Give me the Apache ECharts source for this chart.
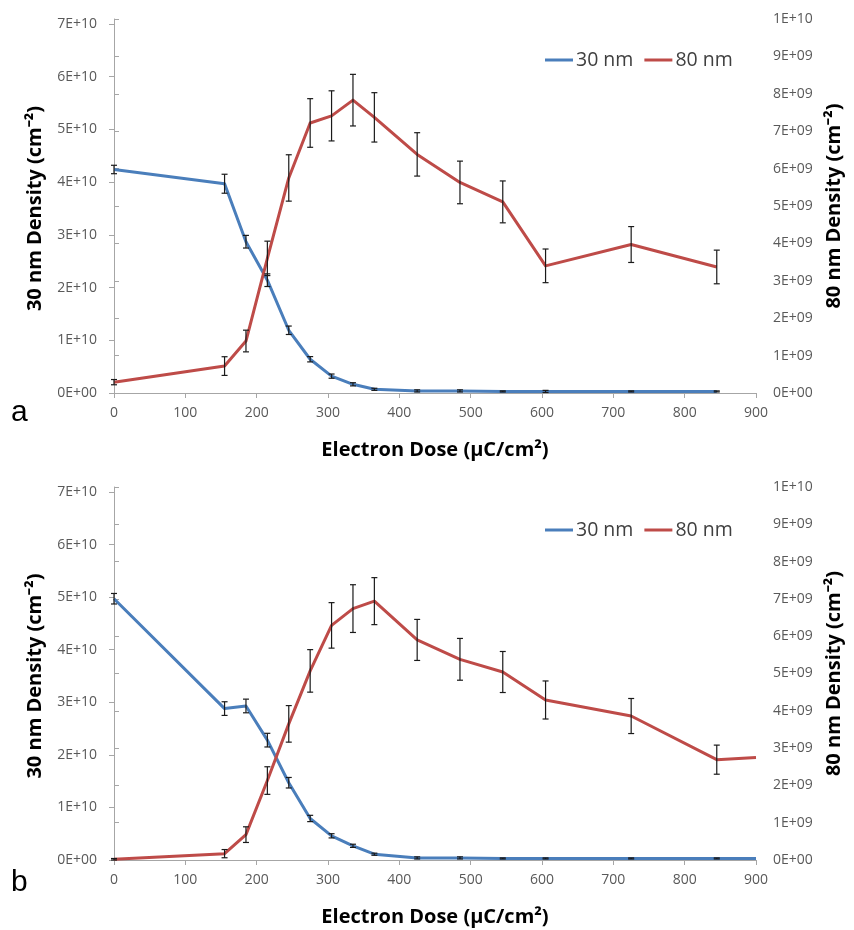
<!DOCTYPE html>
<html>
<head>
<meta charset="utf-8">
<script src="https://cdn.jsdelivr.net/npm/echarts@6/dist/echarts.min.js"></script>
<style>
  html, body { margin: 0; padding: 0; background: #fff; }
  #chart { width: 854px; height: 930px; }
</style>
</head>
<body>
<div id="chart"></div>
<script>
// electron dose (µC/cm²)
const doses = [0, 155, 185, 215, 245, 275, 305, 335, 365, 425, 485, 545, 605, 725, 845];
const dosesB = [0, 155, 185, 215, 245, 275, 305, 335, 365, 425, 485, 545, 605, 725, 845, 900];

// panel a
const aBlue = [4.24e10, 3.97e10, 2.87e10, 2.14e10, 1.19e10, 0.64e10, 0.32e10, 0.165e10, 0.07e10, 0.04e10, 0.04e10, 0.03e10, 0.03e10, 0.03e10, 0.03e10];
const aBlueErr = [0.08e10, 0.18e10, 0.12e10, 0.12e10, 0.08e10, 0.05e10, 0.04e10, 0.03e10, 0.02e10, 0.02e10, 0.02e10, 0.01e10, 0.02e10, 0.01e10, 0.01e10];
const aRed = [0.29e9, 0.72e9, 1.39e9, 3.6e9, 5.75e9, 7.22e9, 7.41e9, 7.83e9, 7.37e9, 6.38e9, 5.63e9, 5.11e9, 3.40e9, 3.97e9, 3.37e9];
const aRedErr = [0.07e9, 0.25e9, 0.29e9, 0.46e9, 0.62e9, 0.65e9, 0.67e9, 0.69e9, 0.66e9, 0.58e9, 0.57e9, 0.56e9, 0.45e9, 0.48e9, 0.45e9];

// panel b
const bBlue = [4.97e10, 2.88e10, 2.93e10, 2.28e10, 1.47e10, 0.79e10, 0.46e10, 0.27e10, 0.11e10, 0.04e10, 0.04e10, 0.03e10, 0.03e10, 0.03e10, 0.03e10, 0.03e10];
const bBlueErr = [0.1e10, 0.13e10, 0.13e10, 0.13e10, 0.1e10, 0.06e10, 0.04e10, 0.03e10, 0.02e10, 0.02e10, 0.02e10, 0.01e10, 0.01e10, 0.01e10, 0.01e10, null];
const bRed = [0.02e9, 0.17e9, 0.68e9, 2.13e9, 3.65e9, 5.07e9, 6.29e9, 6.74e9, 6.94e9, 5.9e9, 5.38e9, 5.04e9, 4.29e9, 3.86e9, 2.69e9, 2.75e9];
const bRedErr = [0.02e9, 0.11e9, 0.21e9, 0.37e9, 0.49e9, 0.57e9, 0.61e9, 0.64e9, 0.63e9, 0.55e9, 0.56e9, 0.55e9, 0.51e9, 0.47e9, 0.39e9, null];

const seriesNames = ['30 nm', '80 nm'];

const BLUE = '#4A7EBB';
const RED = '#BE4B48';
const AXIS = '#a6a6a6';
const LABEL = '#595959';
const FONT = '"Open Sans", "Liberation Sans", sans-serif';

// 7E+10, 0E+00 ...
function sci(v) {
  if (v === 0) return '0E+00';
  const exp = Math.floor(Math.log10(v) + 1e-9);
  const mant = Math.round(v / Math.pow(10, exp));
  return mant + 'E+' + String(exp).padStart(2, '0');
}

const chart = echarts.init(document.getElementById('chart'), null, { renderer: 'canvas' });

function pairs(xs, ys) {
  return xs.map((x, i) => [x, ys[i]]);
}

function errData(xs, ys, errs) {
  return xs.map((x, i) => (errs[i] == null ? null : [x, ys[i] - errs[i], ys[i] + errs[i]]))
    .filter((d) => d !== null);
}

function renderErr(params, api) {
  const lo = api.coord([api.value(0), api.value(1)]);
  const hi = api.coord([api.value(0), api.value(2)]);
  const w = 3;
  const style = { stroke: '#1a1a1a', lineWidth: 1.2 };
  return {
    type: 'group',
    children: [
      { type: 'line', shape: { x1: lo[0], y1: lo[1], x2: hi[0], y2: hi[1] }, style },
      { type: 'line', shape: { x1: lo[0] - w, y1: lo[1], x2: lo[0] + w, y2: lo[1] }, style },
      { type: 'line', shape: { x1: hi[0] - w, y1: hi[1], x2: hi[0] + w, y2: hi[1] }, style },
    ],
  };
}

function xAxis(gridIndex, visible) {
  return {
    type: 'value',
    gridIndex,
    min: 0,
    max: 900,
    interval: 100,
    show: visible,
    name: visible ? 'Electron Dose (µC/cm²)' : '',
    nameLocation: 'middle',
    nameGap: 47,
    nameTextStyle: { fontFamily: FONT, fontSize: 20, fontWeight: 'bold', color: '#000' },
    axisLine: { show: true, lineStyle: { color: AXIS, width: 1 } },
    axisTick: { show: true, length: 5, lineStyle: { color: AXIS } },
    axisLabel: { color: LABEL, fontFamily: FONT, fontSize: 14, margin: 13 },
    splitLine: { show: false },
  };
}

function yAxis(gridIndex, right) {
  return {
    type: 'value',
    gridIndex,
    position: right ? 'right' : 'left',
    min: 0,
    max: right ? 1e10 : 7e10,
    interval: right ? 1e9 : 1e10,
    name: right ? '80 nm Density (cm⁻²)' : '30 nm Density (cm⁻²)',
    nameLocation: 'middle',
    nameGap: right ? 68 : 69,
    nameTextStyle: { fontFamily: FONT, fontSize: 20, fontWeight: 'bold', color: '#000' },
    axisLine: { show: true, lineStyle: { color: AXIS, width: 1 } },
    axisTick: { show: true, length: 5, lineStyle: { color: AXIS } },
    axisLabel: { color: LABEL, fontFamily: FONT, fontSize: 14, margin: 17, formatter: sci },
    splitLine: { show: false },
  };
}

function lineSeries(name, color, xi, yi, data) {
  return {
    name,
    type: 'line',
    xAxisIndex: xi,
    yAxisIndex: yi,
    data,
    showSymbol: false,
    symbol: 'none',
    color,
    lineStyle: { color, width: 3, join: 'round' },
  };
}

function errSeries(xi, yi, data) {
  return {
    type: 'custom',
    xAxisIndex: xi,
    yAxisIndex: yi,
    data,
    renderItem: renderErr,
    z: 5,
    silent: true,
  };
}

function legend(top) {
  return {
    data: seriesNames,
    left: 540,
    top,
    icon: 'rect',
    itemWidth: 28,
    itemHeight: 3,
    itemGap: 11,
    textStyle: { fontFamily: FONT, fontSize: 19.5, color: '#404040', padding: [0, 0, 0, -2] },
  };
}

const option = {
  animation: false,
  backgroundColor: '#fff',
  grid: [
    { left: 114, right: 98, top: 24, height: 369 },
    { left: 114, right: 98, top: 19, height: 374 },
    { left: 114, right: 98, top: 492, height: 368 },
    { left: 114, right: 98, top: 487, height: 373 },
  ],
  legend: [legend(45), legend(515)],
  xAxis: [xAxis(0, true), xAxis(1, false), xAxis(2, true), xAxis(3, false)],
  yAxis: [yAxis(0, false), yAxis(1, true), yAxis(2, false), yAxis(3, true)],
  series: [
    lineSeries(seriesNames[0], BLUE, 0, 0, pairs(doses, aBlue)),
    lineSeries(seriesNames[1], RED, 1, 1, pairs(doses, aRed)),
    errSeries(0, 0, errData(doses, aBlue, aBlueErr)),
    errSeries(1, 1, errData(doses, aRed, aRedErr)),
    lineSeries(seriesNames[0], BLUE, 2, 2, pairs(dosesB, bBlue)),
    lineSeries(seriesNames[1], RED, 3, 3, pairs(dosesB, bRed)),
    errSeries(2, 2, errData(dosesB, bBlue, bBlueErr)),
    errSeries(3, 3, errData(dosesB, bRed, bRedErr)),
  ],
  graphic: [
    { type: 'text', left: 11, top: 398, style: { text: 'a', font: '30px "Liberation Sans", Arial, sans-serif', fill: '#000' } },
    { type: 'text', left: 11, top: 868, style: { text: 'b', font: '30px "Liberation Sans", Arial, sans-serif', fill: '#000' } },
  ],
};

chart.setOption(option);
</script>
</body>
</html>
